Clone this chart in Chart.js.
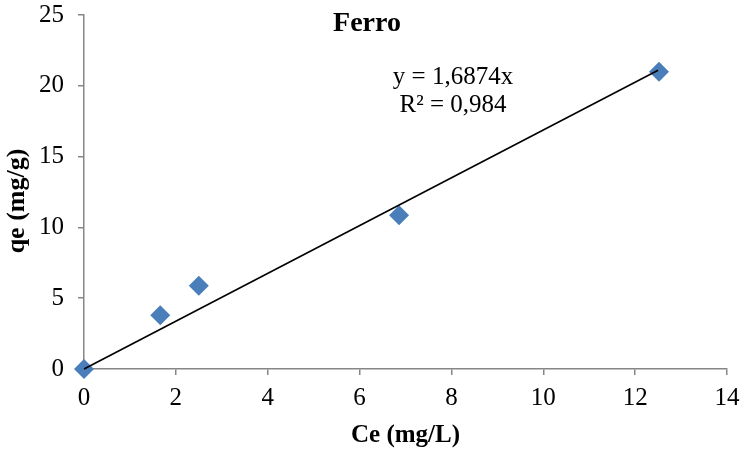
<!DOCTYPE html>
<html>
<head>
<meta charset="utf-8">
<script src="https://cdn.jsdelivr.net/npm/chart.js@4.4.0/dist/chart.umd.min.js"></script>
<style>
  html, body { margin: 0; padding: 0; background: #fff; }
  #wrap { width: 745px; height: 453px; }
</style>
</head>
<body>
<div id="wrap"><canvas id="chart" width="745" height="453"></canvas></div>
<script>
// measured points: Ce (mg/L) vs qe (mg/g)
const ceValues = [0, 1.66, 2.5, 6.86, 12.52];
const qeValues = [0, 3.8, 5.88, 10.85, 21.0];

// linear fit through origin
const slope = 1.6874;
const r2 = 0.984;
const fitRange = [0, 12.5];

const xTicks = [0, 2, 4, 6, 8, 10, 12, 14];
const yTicks = [0, 5, 10, 15, 20, 25];

const serif = '"Liberation Serif", "Times New Roman", serif';
const axisGray = '#868686';

const points = ceValues.map((x, i) => ({ x: x, y: qeValues[i] }));
const fitLine = fitRange.map(x => ({ x: x, y: slope * x }));

const fmt = v => v.toFixed(4).replace(/0+$/, '').replace('.', ',');

// chart title, y axis title and trendline label
const labelsPlugin = {
  id: 'labels',
  afterDatasetsDraw(chart) {
    const ctx = chart.ctx;
    ctx.save();
    ctx.fillStyle = '#000';
    ctx.textAlign = 'center';
    ctx.textBaseline = 'middle';
    ctx.font = 'bold 28px ' + serif;
    ctx.fillText('Ferro', 367, 24);
    ctx.font = '25px ' + serif;
    ctx.fillText('y = ' + fmt(slope) + 'x', 453, 77);
    ctx.fillText('R² = ' + String(r2).replace('.', ','), 453, 105);
    ctx.translate(17, 201);
    ctx.rotate(-Math.PI / 2);
    ctx.font = 'bold 26px ' + serif;
    ctx.fillText('qe (mg/g)', 0, 0);
    ctx.restore();
  }
};

new Chart(document.getElementById('chart'), {
  type: 'scatter',
  data: {
    datasets: [
      {
        type: 'line',
        data: fitLine,
        borderColor: '#000',
        borderWidth: 1.6,
        pointRadius: 0,
        fill: false,
        order: 0,
        clip: false
      },
      {
        data: points,
        pointStyle: 'rectRot',
        pointRadius: 10,
        pointHoverRadius: 10,
        backgroundColor: '#4a7ebb',
        borderColor: '#4a7ebb',
        borderWidth: 0,
        order: 1,
        clip: false
      }
    ]
  },
  options: {
    responsive: false,
    animation: false,
    layout: { padding: { top: 15, right: 18, left: 0, bottom: 0 } },
    plugins: {
      legend: { display: false },
      tooltip: { enabled: false }
    },
    scales: {
      x: {
        type: 'linear',
        min: 0,
        max: 14,
        afterBuildTicks: s => { s.ticks = xTicks.map(v => ({ value: v })); },
        afterFit: s => { s.height = 84; s.paddingLeft = 0; s.paddingRight = 0; },
        grid: { drawOnChartArea: false, drawTicks: true, tickLength: 6, color: axisGray, lineWidth: 1.5 },
        border: { color: axisGray, width: 1.5 },
        ticks: { color: '#000', padding: 8, font: { family: serif, size: 25 } },
        title: {
          display: true,
          text: 'Ce (mg/L)',
          color: '#000',
          padding: { top: 0, bottom: 2 },
          font: { family: serif, size: 25, weight: 'bold' }
        }
      },
      y: {
        type: 'linear',
        min: 0,
        max: 25,
        afterBuildTicks: s => { s.ticks = yTicks.map(v => ({ value: v })); },
        afterFit: s => { s.width = 84; s.paddingTop = 0; s.paddingBottom = 0; },
        grid: { drawOnChartArea: false, drawTicks: true, tickLength: 6, color: axisGray, lineWidth: 1.5 },
        border: { color: axisGray, width: 1.5 },
        ticks: { color: '#000', padding: 14, font: { family: serif, size: 25 } }
      }
    }
  },
  plugins: [labelsPlugin]
});
</script>
</body>
</html>
